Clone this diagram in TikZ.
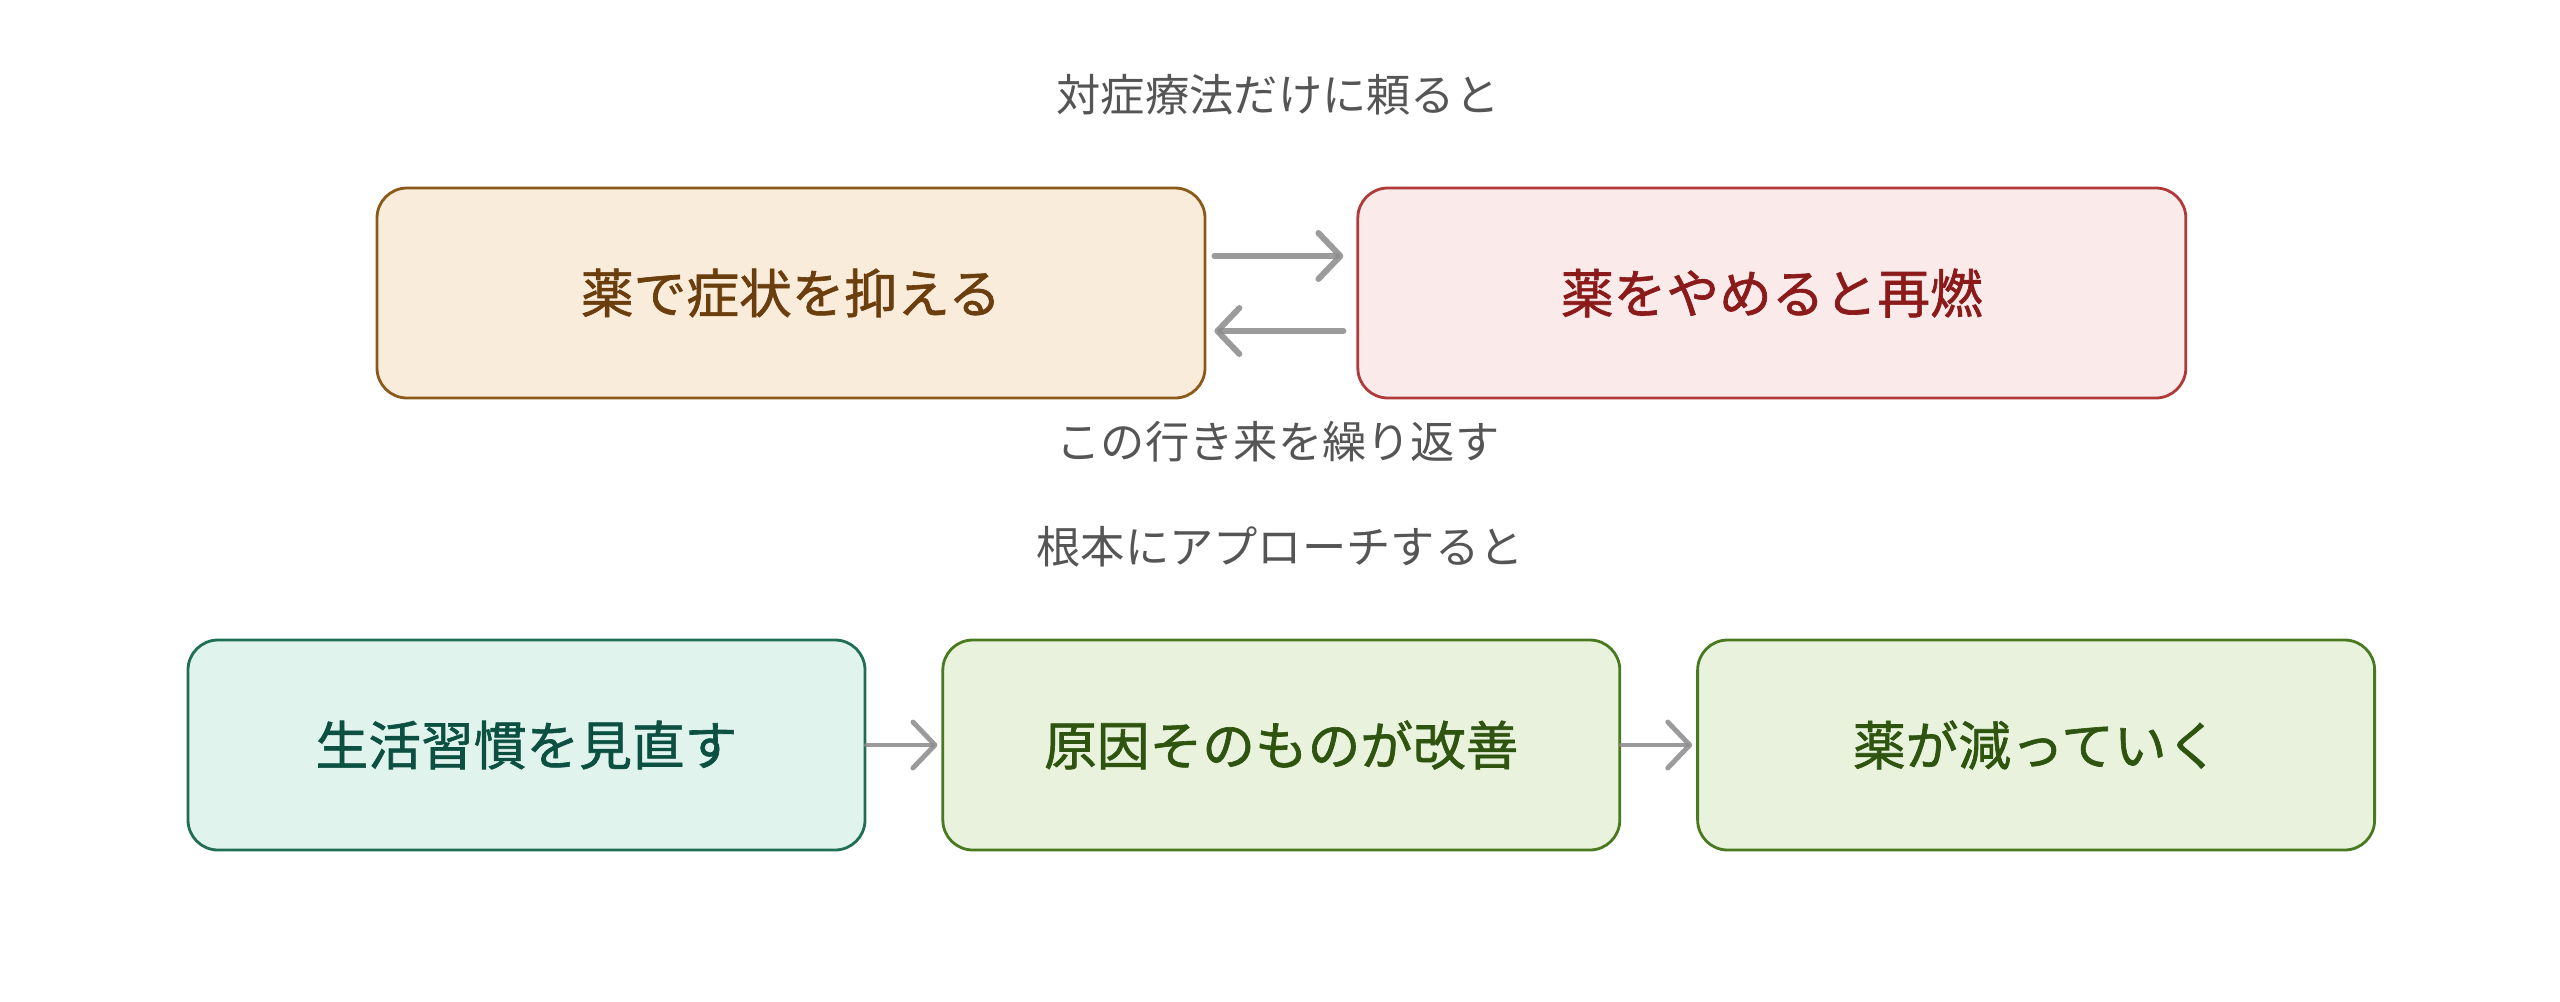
\documentclass[tikz,border=0pt]{standalone}
\usepackage{fontspec}
\newfontfamily\cjk{Noto Sans CJK JP}
\newfontfamily\cjkmid{Noto Sans CJK JP}[FakeBold=1.2]
\usetikzlibrary{positioning,arrows.meta}

\definecolor{labelgray}{HTML}{555555}
\definecolor{arrowgray}{HTML}{8A8A8A}
\definecolor{symfill}{HTML}{FAECDA}
\definecolor{symdraw}{HTML}{8B5A1B}
\definecolor{symtext}{HTML}{6B3E0E}
\definecolor{relfill}{HTML}{FBEAEA}
\definecolor{reldraw}{HTML}{B03A3A}
\definecolor{reltext}{HTML}{8B1A1A}
\definecolor{lifefill}{HTML}{E0F3EC}
\definecolor{lifedraw}{HTML}{1F6E55}
\definecolor{lifetext}{HTML}{0B5040}
\definecolor{curefill}{HTML}{E8F2DC}
\definecolor{curedraw}{HTML}{4A7A20}
\definecolor{curetext}{HTML}{2E5410}

\def \topwidth {8.28cm}
\def \botwidth {6.77cm}
\def \boxheight {2.1cm}

\tikzset{
  stepbox/.style={draw, rounded corners=0.3cm, line width=0.8pt, minimum height=\boxheight,
    font=\cjkmid\fontsize{15}{18}\selectfont},
  caption/.style={text=labelgray, font=\cjk\fontsize{12.6}{15}\selectfont},
  flow/.style={draw=arrowgray, draw opacity=0.85, line width=1.7pt, line cap=round,
    -{Straight Barb[round, length=2.2mm, width=4.6mm]}}
}

\begin{document}
\begin{tikzpicture}
\useasboundingbox (0,0) rectangle (25.6,-10.01);

% upper row: the loop
\node[caption] (title) at (12.78,-0.95) {対症療法だけに頼ると};
\node[stepbox, fill=symfill, draw=symdraw, text=symtext, minimum width=\topwidth] (suppress) at (7.91,-2.93) {薬で症状を抑える};
\node[stepbox, fill=relfill, draw=reldraw, text=reltext, minimum width=\topwidth, right=1.5cm of suppress] (relapse) {薬をやめると再燃};
\draw[flow] ([xshift=0.08cm, yshift=0.37cm]suppress.east) -- ([xshift=-0.13cm, yshift=0.37cm]relapse.west);
\draw[flow] ([xshift=-0.13cm, yshift=-0.38cm]relapse.west) -- ([xshift=0.08cm, yshift=-0.38cm]suppress.east);
\node[caption] (loop) at (12.78,-4.42) {この行き来を繰り返す};

% lower row: root cause
\node[caption] (root) at (12.8,-5.47) {根本にアプローチすると};
\node[stepbox, fill=lifefill, draw=lifedraw, text=lifetext, minimum width=\botwidth] (habit) at (5.265,-7.45) {生活習慣を見直す};
\node[stepbox, fill=curefill, draw=curedraw, text=curetext, minimum width=\botwidth, right=0.75cm of habit] (cause) {原因そのものが改善};
\node[stepbox, fill=curefill, draw=curedraw, text=curetext, minimum width=\botwidth, right=0.75cm of cause] (less) {薬が減っていく};
\draw[flow, line width=1.4pt] (habit.east) -- ([xshift=-0.04cm]cause.west);
\draw[flow, line width=1.4pt] (cause.east) -- ([xshift=-0.04cm]less.west);
\end{tikzpicture}
\end{document}
